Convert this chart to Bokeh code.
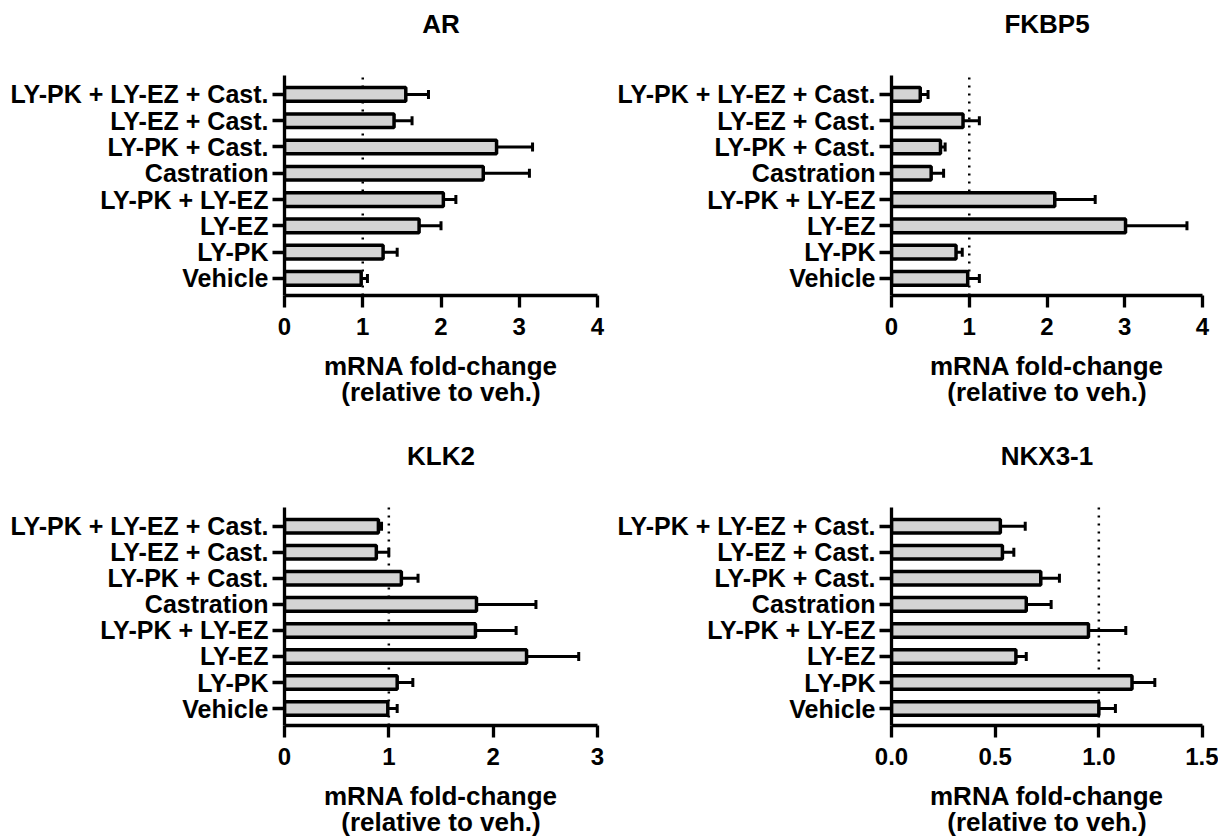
from bokeh.plotting import figure
from bokeh.layouts import column, row
from bokeh.models import ColumnDataSource, Whisker, TeeHead, FixedTicker, Label
from bokeh.embed import file_html
from bokeh.resources import INLINE

# categories from bottom to top
categories = ["Vehicle", "LY-PK", "LY-EZ", "LY-PK + LY-EZ", "Castration",
              "LY-PK + Cast.", "LY-EZ + Cast.", "LY-PK + LY-EZ + Cast."]

ar_mean = [0.98, 1.26, 1.72, 2.03, 2.54, 2.71, 1.40, 1.55]
ar_sem = [0.08, 0.18, 0.28, 0.16, 0.59, 0.46, 0.23, 0.29]

fkbp5_mean = [0.98, 0.83, 3.01, 2.10, 0.51, 0.63, 0.92, 0.37]
fkbp5_sem = [0.15, 0.08, 0.79, 0.52, 0.16, 0.06, 0.21, 0.10]

klk2_mean = [0.99, 1.08, 2.32, 1.83, 1.84, 1.12, 0.88, 0.90]
klk2_sem = [0.09, 0.15, 0.50, 0.39, 0.57, 0.16, 0.12, 0.03]

nkx_mean = [1.00, 1.16, 0.60, 0.95, 0.65, 0.72, 0.535, 0.525]
nkx_sem = [0.08, 0.11, 0.05, 0.18, 0.12, 0.09, 0.055, 0.12]

reference_level = 1.0  # vehicle level (dotted line)

ticks_4 = [0, 1, 2, 3, 4]
labels_4 = ["0", "1", "2", "3", "4"]
ticks_3 = [0, 1, 2, 3]
labels_3 = ["0", "1", "2", "3"]
ticks_15 = [0, 0.5, 1.0, 1.5]
labels_15 = ["0.0", "0.5", "1.0", "1.5"]

FONT = "Liberation Sans"
X_LABEL = "mRNA fold-change\n(relative to veh.)"
Y_START, Y_END = -0.65, 7.72


def make_panel(title, means, sems, xticks, xlabels, borders, frame_w, axis_h, title_h):
    pos = list(range(len(categories)))
    upper = [m + s for m, s in zip(means, sems)]
    src = ColumnDataSource(dict(y=pos, mean=means, upper=upper))
    bl, br, bb = borders
    per_px = (Y_END - Y_START) / axis_h
    p = figure(frame_width=frame_w, frame_height=axis_h + title_h,
               x_range=(xticks[0], xticks[-1]),
               y_range=(Y_START, Y_END + title_h * per_px),
               output_backend="svg", toolbar_location=None,
               min_border_left=bl, min_border_right=br,
               min_border_top=0, min_border_bottom=bb)
    p.outline_line_color = None
    p.xgrid.visible = False
    p.ygrid.visible = False

    # panel title above the top of the y axis
    p.add_layout(Label(x=(xticks[0] + xticks[-1]) / 2, y=Y_END + 52 * per_px,
                       text=title, text_font=FONT, text_font_size="26px",
                       text_font_style="bold", text_color="black",
                       text_align="center", text_baseline="alphabetic"))

    # dotted reference line behind the bars
    p.segment(x0=reference_level, y0=Y_START, x1=reference_level, y1=Y_END,
              line_color="black", line_width=2.5, line_dash="2 6")

    p.hbar(y="y", left=0, right="mean", height=0.52, source=src,
           fill_color="#d4d4d4", line_color="black", line_width=3.5)

    p.add_layout(Whisker(base="y", lower="mean", upper="upper", dimension="width",
                         source=src, line_color="black", line_width=3,
                         upper_head=TeeHead(size=9, line_width=3, line_color="black"),
                         lower_head=None))

    for ax in (p.xaxis[0], p.yaxis[0]):
        ax.axis_line_width = 3.3
        ax.axis_line_color = "black"
        ax.major_tick_line_width = 3.3
        ax.major_tick_line_color = "black"
        ax.major_tick_out = 12
        ax.major_tick_in = 0
        ax.minor_tick_out = 0
        ax.minor_tick_in = 0
        ax.major_label_text_font = FONT
        ax.major_label_text_font_style = "bold"
        ax.major_label_text_color = "black"

    p.xaxis.ticker = FixedTicker(ticks=xticks)
    p.xaxis.major_label_overrides = {t: l for t, l in zip(xticks, xlabels)}
    p.xaxis.major_label_text_font_size = "24px"
    p.xaxis.major_label_standoff = 10
    p.xaxis.axis_label = X_LABEL
    p.xaxis.axis_label_text_font = FONT
    p.xaxis.axis_label_text_font_style = "bold"
    p.xaxis.axis_label_text_font_size = "26px"
    p.xaxis.axis_label_text_color = "black"
    p.xaxis.axis_label_text_align = "center"
    p.xaxis.axis_label_text_line_height = 0.87
    p.xaxis.axis_label_standoff = 13

    p.yaxis.ticker = FixedTicker(ticks=pos)
    p.yaxis.bounds = (Y_START, Y_END)
    p.yaxis.major_label_overrides = {i: c for i, c in zip(pos, categories)}
    p.yaxis.major_label_text_font_size = "25px"
    p.yaxis.major_label_standoff = 4
    return p


p1 = make_panel("AR", ar_mean, ar_sem, ticks_4, labels_4, (284, 10, 142), 313, 220, 75)
p2 = make_panel("FKBP5", fkbp5_mean, fkbp5_sem, ticks_4, labels_4, (284, 16, 142), 311, 220, 75)
p3 = make_panel("KLK2", klk2_mean, klk2_sem, ticks_3, labels_3, (284, 10, 100), 313, 218, 70)
p4 = make_panel("NKX3-1", nkx_mean, nkx_sem, ticks_15, labels_15, (284, 16, 100), 311, 218, 70)

layout = column(row(p1, p2), row(p3, p4))
open("out.html", "w").write(file_html(layout, INLINE))
